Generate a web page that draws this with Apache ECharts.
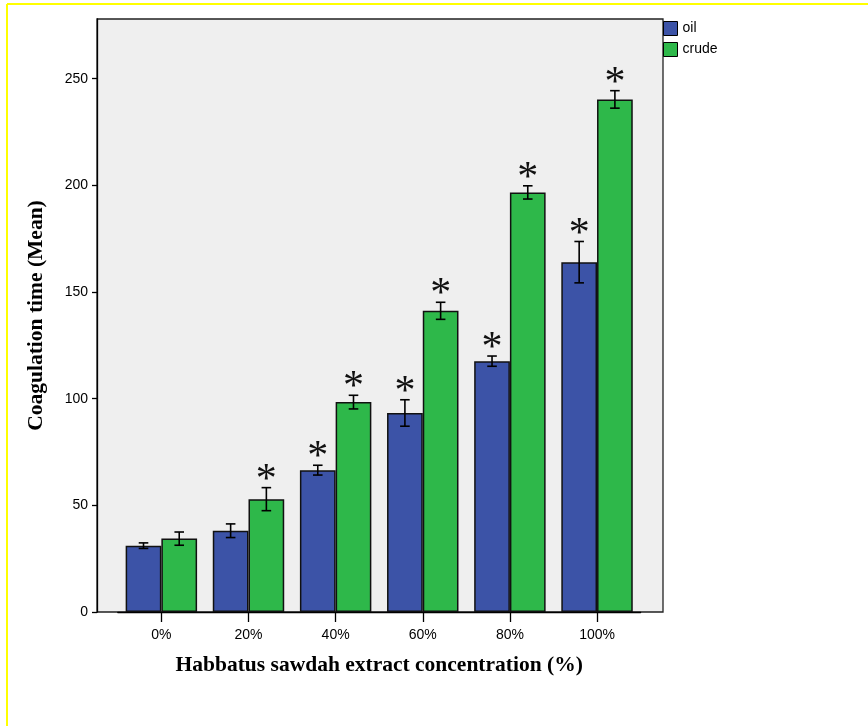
<!DOCTYPE html>
<html>
<head>
<meta charset="utf-8">
<script src="https://cdn.jsdelivr.net/npm/echarts@6/dist/echarts.min.js"></script>
<style>
html,body{margin:0;padding:0;background:#fff;}
#chart{width:868px;height:726px;}
</style>
</head>
<body>
<div id="chart"></div>
<script>
var categories = ['0%', '20%', '40%', '60%', '80%', '100%'];
var oilMean = [31.1, 38.1, 66.5, 93.3, 117.6, 164.0];
var oilErr = [1.3, 3.2, 2.3, 6.2, 2.4, 9.7];
var oilSig = [0, 0, 1, 1, 1, 1];
var crudeMean = [34.4, 52.9, 98.4, 141.2, 196.7, 240.3];
var crudeErr = [3.1, 5.4, 3.2, 4.0, 3.1, 4.1];
var crudeSig = [0, 1, 1, 1, 1, 1];
var yTicks = [0, 50, 100, 150, 200, 250];
var seriesNames = ['oil', 'crude'];
var yMax = 278;

var OIL = '#3c53a7';
var CRUDE = '#2eb84a';

function errData(mean, err, sig, side) {
  return mean.map(function (m, i) { return [i, m, err[i], sig[i], side]; });
}

function renderErr(params, api) {
  var idx = api.value(0), m = api.value(1), e = api.value(2), sig = api.value(3), side = api.value(4);
  var band = api.size([1, 0])[0];
  var c = api.coord([idx, m]);
  var x = c[0] + side * band * 0.205;
  var yT = api.coord([idx, m + e])[1];
  var yB = api.coord([idx, m - e])[1];
  var cap = band * 0.055;
  var st = { stroke: '#000', lineWidth: 1.6 };
  var children = [
    { type: 'line', shape: { x1: x, y1: yT, x2: x, y2: yB }, style: st },
    { type: 'line', shape: { x1: x - cap, y1: yT, x2: x + cap, y2: yT }, style: st },
    { type: 'line', shape: { x1: x - cap, y1: yB, x2: x + cap, y2: yB }, style: st }
  ];
  if (sig) {
    children.push({
      type: 'text',
      style: { text: '*', x: x, y: yT + 14, textAlign: 'center', textVerticalAlign: 'bottom',
        font: '42px "Liberation Serif"', fill: '#111' }
    });
  }
  return { type: 'group', children: children };
}

var chart = echarts.init(document.getElementById('chart'));
chart.setOption({
  animation: false,
  backgroundColor: '#fff',
  graphic: [
    { type: 'line', shape: { x1: 7, y1: 4, x2: 868, y2: 4 }, style: { stroke: '#ffff00', lineWidth: 2 } },
    { type: 'line', shape: { x1: 7, y1: 4, x2: 7, y2: 726 }, style: { stroke: '#ffff00', lineWidth: 2 } }
  ],
  legend: {
    orient: 'vertical', left: 663, top: 21, padding: 0, itemWidth: 14, itemHeight: 14, itemGap: 6,
    icon: 'rect',
    itemStyle: { borderColor: '#000', borderWidth: 1 },
    textStyle: { fontFamily: 'Liberation Sans', fontSize: 14, color: '#000' },
    data: seriesNames
  },
  grid: [
    { left: 97, right: 205, top: 19, bottom: 114, show: true, backgroundColor: '#efefef',
      borderColor: '#222', borderWidth: 1.3 },
    { left: 117.8, right: 227.4, top: 19, bottom: 114 }
  ],
  xAxis: [
    { gridIndex: 0, type: 'category', data: categories, show: false },
    { gridIndex: 1, type: 'category', data: categories,
      axisLine: { show: true, lineStyle: { color: '#000', width: 1.3 } },
      axisTick: { show: true, alignWithLabel: true, length: 10, lineStyle: { color: '#000', width: 1.3 } },
      axisLabel: { margin: 16, fontFamily: 'Liberation Sans', fontSize: 14, color: '#000' },
      name: 'Habbatus sawdah extract concentration (%)', nameLocation: 'middle', nameGap: 42,
      nameTextStyle: { fontFamily: 'Liberation Serif', fontWeight: 'bold', fontSize: 21.5, color: '#000' }
    }
  ],
  yAxis: [
    { gridIndex: 0, type: 'value', min: 0, max: yMax, interval: 50,
      splitLine: { show: false },
      axisLine: { show: true, lineStyle: { color: '#000', width: 1.3 } },
      axisTick: { show: true, length: 5, customValues: yTicks, lineStyle: { color: '#000', width: 1.3 } },
      axisLabel: { margin: 9, customValues: yTicks,
        fontFamily: 'Liberation Sans', fontSize: 14, color: '#000' },
      name: 'Coagulation time (Mean)', nameLocation: 'middle', nameGap: 50, nameRotate: 90,
      nameTextStyle: { fontFamily: 'Liberation Serif', fontWeight: 'bold', fontSize: 21.5, color: '#000' }
    },
    { gridIndex: 1, type: 'value', min: 0, max: yMax, show: false, splitLine: { show: false } }
  ],
  series: [
    { name: 'oil', type: 'bar', xAxisIndex: 1, yAxisIndex: 1, data: oilMean,
      barWidth: '41%', barGap: '0%',
      itemStyle: { color: OIL, borderColor: '#111', borderWidth: 1.5 } },
    { name: 'crude', type: 'bar', xAxisIndex: 1, yAxisIndex: 1, data: crudeMean,
      barWidth: '41%', barGap: '0%',
      itemStyle: { color: CRUDE, borderColor: '#111', borderWidth: 1.5 } },
    { type: 'custom', xAxisIndex: 1, yAxisIndex: 1, renderItem: renderErr,
      data: errData(oilMean, oilErr, oilSig, -1), z: 10 },
    { type: 'custom', xAxisIndex: 1, yAxisIndex: 1, renderItem: renderErr,
      data: errData(crudeMean, crudeErr, crudeSig, 1), z: 10 }
  ]
});
</script>
</body>
</html>
